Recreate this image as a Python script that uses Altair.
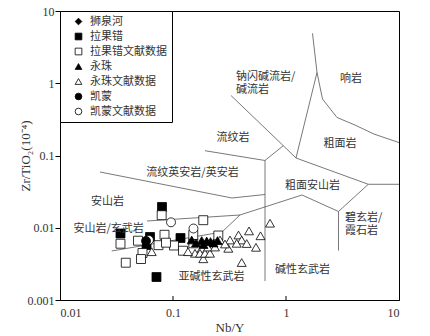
import altair as alt
import pandas as pd

# ---------------- data ----------------
groups = ["狮泉河", "拉果错", "拉果错文献数据", "永珠", "永珠文献数据", "凯蒙", "凯蒙文献数据"]
group_shapes = ["diamond", "square", "square", "triangle-up", "triangle-up", "circle", "circle"]
group_fills = ["black", "black", "white", "black", "white", "black", "white"]
group_strokes = ["black", "black", "black", "black", "black", "black", "black"]

# 拉果错 (filled squares)
lgc_x = [0.0799, 0.0343, 0.0626, 0.0583, 0.1165, 0.0714]
lgc_y = [0.0194, 0.00833, 0.00745, 0.00577, 0.00721, 0.00208]

# 拉果错文献数据 (open squares)
lgc_lit_x = [0.0794, 0.1853, 0.0343, 0.0490, 0.0537, 0.0521, 0.0382, 0.0744,
             0.0841, 0.1020, 0.1226, 0.1512, 0.1512, 0.2518, 0.0867]
lgc_lit_y = [0.01492, 0.01272, 0.00601, 0.00662, 0.00447, 0.00369, 0.00328, 0.00574,
             0.00799, 0.00568, 0.00481, 0.00609, 0.00794, 0.00781, 0.00621]

# 永珠 (filled triangles)
yz_x = [0.1464, 0.1795, 0.1987, 0.2147, 0.2476, 0.1862, 0.1598, 0.2283]
yz_y = [0.00677, 0.00666, 0.00656, 0.00645, 0.00666, 0.00586, 0.00615, 0.00615]

# 永珠文献数据 (open triangles)
yz_lit_x = [0.722, 0.4707, 0.5948, 0.3799, 0.3194, 0.4055, 0.4491, 0.5426, 0.3086,
            0.4055, 0.1853, 0.1795, 0.1566, 0.1734, 0.1919, 0.2125, 0.0648, 0.2606,
            0.3663, 0.2885, 0.2040, 0.1357, 0.2353]
yz_lit_y = [0.01156, 0.00904, 0.00774, 0.00794, 0.00677, 0.00677, 0.00605, 0.00536, 0.00519,
            0.00330, 0.00372, 0.00519, 0.00443, 0.00443, 0.00443, 0.00443, 0.00466, 0.00677,
            0.00609, 0.00596, 0.00541, 0.00466, 0.00541]

# 凯蒙 (filled circle)
km_x = [0.0577]
km_y = [0.00656]

# 凯蒙文献数据 (open circles)
km_lit_x = [0.0960, 0.1518, 0.0613]
km_lit_y = [0.01189, 0.00976, 0.00677]

# field boundaries (Winchester & Floyd)
b1_x = [1.716, 1.881, 2.104, 2.827, 4.079, 6.009, 10.0]
b1_y = [4.91, 1.409, 0.605, 0.336, 0.264, 0.198, 0.151]
b2_x = [1.881, 1.226]
b2_y = [1.409, 0.0923]
b3_x = [0.326, 0.9465, 1.226]
b3_y = [0.677, 0.1367, 0.0923]
b4_x = [0.9465, 0.652, 0.652]
b4_y = [0.1367, 0.0853, 0.00183]
b5_x = [0.192, 0.652]
b5_y = [0.1165, 0.0853]
b6_x = [1.226, 5.35, 10.0]
b6_y = [0.0923, 0.03995, 0.03995]
b7_x = [5.35, 2.914, 2.914]
b7_y = [0.03995, 0.01679, 0.00484]
b8_x = [0.0226, 0.3327, 0.652]
b8_y = [0.0591, 0.0258, 0.02885]
b9_x = [0.0589, 0.3916, 1.385, 2.914]
b9_y = [0.0124, 0.01502, 0.0284, 0.01679]
b10_x = [0.3916, 0.2715]
b10_y = [0.01502, 0.00873]
b11_x = [0.02868, 0.2715]
b11_y = [0.004767, 0.00873]

# field names (centred)
lab_c_text = ["响岩", "流纹岩", "粗面岩", "流纹英安岩/英安岩", "安山岩", "安山岩/玄武岩",
              "粗面安山岩", "碱性玄武岩", "亚碱性玄武岩"]
lab_c_x = [3.76, 0.340, 3.006, 0.1488, 0.02633, 0.02698, 1.716, 1.40, 0.2192]
lab_c_y = [1.145, 0.1747, 0.1443, 0.0578, 0.02294, 0.00961, 0.0375, 0.002627, 0.00206]

# field names (left aligned, two-line)
lab_l_text = ["钠闪碱流岩/", "碱流岩", "碧玄岩/", "霞石岩"]
lab_l_x = [0.361, 0.361, 3.327, 3.327]
lab_l_y = [1.23, 0.80, 0.0138, 0.0091]

x_ticks = [0.01, 0.1, 1, 10]
y_ticks = [0.001, 0.01, 0.1, 1, 10]

# ---------------- tables ----------------
series = [
    ("拉果错", lgc_x, lgc_y),
    ("拉果错文献数据", lgc_lit_x, lgc_lit_y),
    ("永珠文献数据", yz_lit_x, yz_lit_y),
    ("永珠", yz_x, yz_y),
    ("凯蒙文献数据", km_lit_x, km_lit_y),
    ("凯蒙", km_x, km_y),
]
rows = []
for g, xs, ys in series:
    for xv, yv in zip(xs, ys):
        rows.append({"g": g, "x": xv, "y": yv})
pts = pd.DataFrame(rows)

bounds = [(b1_x, b1_y), (b2_x, b2_y), (b3_x, b3_y), (b4_x, b4_y), (b5_x, b5_y),
          (b6_x, b6_y), (b7_x, b7_y), (b8_x, b8_y), (b9_x, b9_y), (b10_x, b10_y),
          (b11_x, b11_y)]
lrows = []
for i, (xs, ys) in enumerate(bounds):
    for j, (xv, yv) in enumerate(zip(xs, ys)):
        lrows.append({"seg": i, "ord": j, "x": xv, "y": yv})
lines_df = pd.DataFrame(lrows)

labc = pd.DataFrame({"t": lab_c_text, "x": lab_c_x, "y": lab_c_y})
labl = pd.DataFrame({"t": lab_l_text, "x": lab_l_x, "y": lab_l_y})
xtick_df = pd.DataFrame({"x": [0.1, 1]})

SERIF = "Liberation Serif"
CJK = "Noto Sans CJK SC"

xscale = alt.Scale(type="log", domain=[0.01, 10], nice=False)
yscale = alt.Scale(type="log", domain=[0.001, 10], nice=False)

x_axis = alt.Axis(values=x_ticks, format="~g", title="Nb/Y", ticks=False, tickSize=0,
                  labelPadding=7, grid=False, titleY=27, titleBaseline="middle",
                  labelFont=SERIF, labelFontSize=12, titleFont=SERIF, titleFontSize=13,
                  titleFontWeight="normal", labelColor="#333", titleColor="#333",
                  domainColor="black")
y_axis = alt.Axis(values=y_ticks, format="~g", title="Zr/TiO₂(10⁻⁴)", tickSize=5,
                  labelPadding=1, grid=False, titleX=-35, titleY=144.5, titleAngle=-90,
                  titleAlign="center", titleBaseline="middle",
                  labelFont=SERIF, labelFontSize=12, titleFont=SERIF, titleFontSize=13,
                  titleFontWeight="normal", labelColor="#333", titleColor="#333",
                  domainColor="black", tickColor="black")

lines = alt.Chart(lines_df).mark_line(color="#555", strokeWidth=0.8).encode(
    x=alt.X("x:Q", scale=xscale, axis=x_axis),
    y=alt.Y("y:Q", scale=yscale, axis=y_axis),
    detail="seg:N",
    order="ord:Q",
)

tick_rules = alt.Chart(xtick_df).mark_rule(color="black", strokeWidth=1).encode(
    x=alt.X("x:Q", scale=xscale),
    y=alt.value(285),
    y2=alt.value(289),
)

points = alt.Chart(pts).mark_point(filled=True, strokeWidth=0.8,
                                   opacity=1, size=80).encode(
    x=alt.X("x:Q", scale=xscale),
    y=alt.Y("y:Q", scale=yscale),
    shape=alt.Shape("g:N", scale=alt.Scale(domain=groups, range=group_shapes), title=None),
    fill=alt.Fill("g:N", scale=alt.Scale(domain=groups, range=group_fills), title=None),
    stroke=alt.Stroke("g:N", scale=alt.Scale(domain=groups, range=group_strokes), title=None),
)

text_c = alt.Chart(labc).mark_text(font=CJK, fontSize=11, color="#333",
                                   align="center", baseline="middle").encode(
    x=alt.X("x:Q", scale=xscale),
    y=alt.Y("y:Q", scale=yscale),
    text="t:N",
)
text_l = alt.Chart(labl).mark_text(font=CJK, fontSize=11, color="#333",
                                   align="left", baseline="middle").encode(
    x=alt.X("x:Q", scale=xscale),
    y=alt.Y("y:Q", scale=yscale),
    text="t:N",
)

chart = alt.layer(lines, tick_rules, points, text_c, text_l).properties(
    width=339, height=289,
    autosize=alt.AutoSizeParams(type="none"),
    padding={"left": 52, "top": 3, "right": 23, "bottom": 35},
).configure_view(
    stroke="black", strokeWidth=1
).configure_legend(
    orient="top-left", offset=0, strokeColor="black", fillColor="white",
    padding=5, symbolOffset=8, labelOffset=6, rowPadding=3,
    labelFont=CJK, labelFontSize=11, labelColor="#333",
    symbolSize=45, symbolStrokeWidth=0.8,
)

chart.save("out.html", embed_options={"renderer": "svg", "actions": False})
